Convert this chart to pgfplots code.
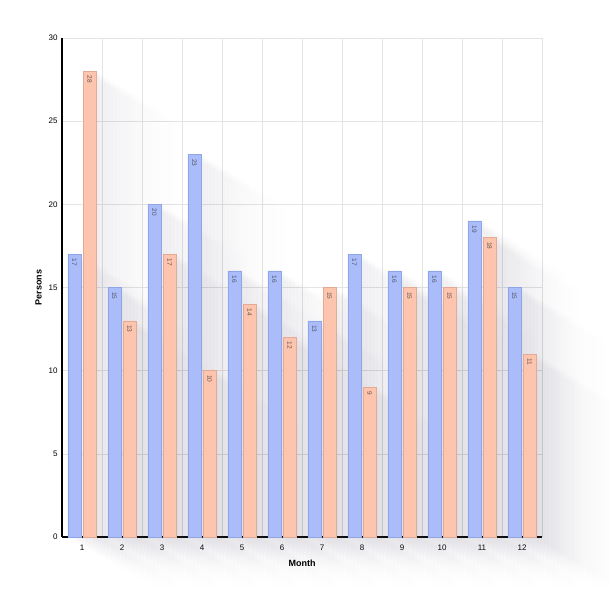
\documentclass[border=0pt]{standalone}
\usepackage{pgfplots}
\pgfplotsset{compat=1.18}
\usepackage{fontspec}
\setmainfont{Liberation Sans}
\definecolor{bblue}{RGB}{170,189,250}
\definecolor{bblueE}{RGB}{145,165,230}
\definecolor{bsal}{RGB}{253,196,174}
\definecolor{bsalE}{RGB}{228,170,150}
\definecolor{shadowc}{RGB}{110,110,135}
\definecolor{gridc}{RGB}{228,228,228}
\tikzset{
  sh/.style 2 args={preaction={draw=none, fill=shadowc, fill opacity=#2,
     transform canvas={shift={(#1*3.5pt,-#1*2.1pt)}}}},
  barshadow/.style={sh={1}{0.03}, sh={2}{0.028}, sh={3}{0.026}, sh={4}{0.024},
     sh={5}{0.022}, sh={6}{0.02}, sh={7}{0.019}, sh={8}{0.018}, sh={9}{0.016},
     sh={10}{0.015}, sh={11}{0.014}, sh={12}{0.012}, sh={13}{0.011}, sh={14}{0.01},
     sh={15}{0.009}, sh={16}{0.008}, sh={17}{0.007}, sh={18}{0.006}, sh={19}{0.005},
     sh={20}{0.004}, sh={21}{0.003}, sh={22}{0.003}, sh={23}{0.002}, sh={24}{0.002}}
}
\pgfplotstableread{
m a b
1 17 28
2 15 13
3 20 17
4 23 10
5 16 14
6 16 12
7 13 15
8 17 9
9 16 15
10 16 15
11 19 18
12 15 11
}\data
\begin{document}
\begin{tikzpicture}
\path[use as bounding box] (0,0) rectangle (610pt,601pt);
\begin{axis}[
  at={(62pt,64pt)}, anchor=south west,
  scale only axis, width=480pt, height=499pt,
  xmin=0.5, xmax=12.5, ymin=0, ymax=30,
  ytick={0,5,...,30}, xtick={1,...,12},
  minor xtick={0.5,1.5,...,12.5},
  xminorgrids, ymajorgrids,
  grid style={gridc, line width=0.6pt}, minor grid style={gridc, line width=0.6pt},
  axis x line*=bottom, axis y line*=left,
  x axis line style={-, line width=1.1pt}, y axis line style={-, line width=1.1pt},
  major tick length=0pt, minor tick length=0pt,
  /pgf/number format/assume math mode=true,
  tick label style={font=\fontsize{8}{9}\selectfont},
  xticklabel style={yshift=-4pt},
  yticklabel style={xshift=-1pt},
  xlabel={\bfseries Month}, ylabel={\bfseries Persons},
  xlabel style={yshift=-3pt},
  label style={font=\fontsize{9}{10}\selectfont},
  clip=false,
  bar width=0.33,
]
\addplot[ybar, bar shift=-0.19, draw=none, fill=none, barshadow] table[x=m,y=a]{\data};
\addplot[ybar, bar shift=0.19, draw=none, fill=none, barshadow] table[x=m,y=b]{\data};
\addplot[ybar, bar shift=-0.19, draw=bblueE, fill=bblue, line width=0.5pt,
  nodes near coords,
  every node near coord/.append style={xshift=-7.6pt, yshift=-1pt, rotate=-90, anchor=west, font=\fontsize{6.5}{7}\selectfont, text={rgb,255:red,85;green,85;blue,105}}]
  table[x=m,y=a]{\data};
\addplot[ybar, bar shift=0.19, draw=bsalE, fill=bsal, line width=0.5pt,
  nodes near coords,
  every node near coord/.append style={xshift=7.6pt, yshift=-1pt, rotate=-90, anchor=west, font=\fontsize{6.5}{7}\selectfont, text={rgb,255:red,105;green,85;blue,80}}]
  table[x=m,y=b]{\data};
\end{axis}
\end{tikzpicture}
\end{document}
